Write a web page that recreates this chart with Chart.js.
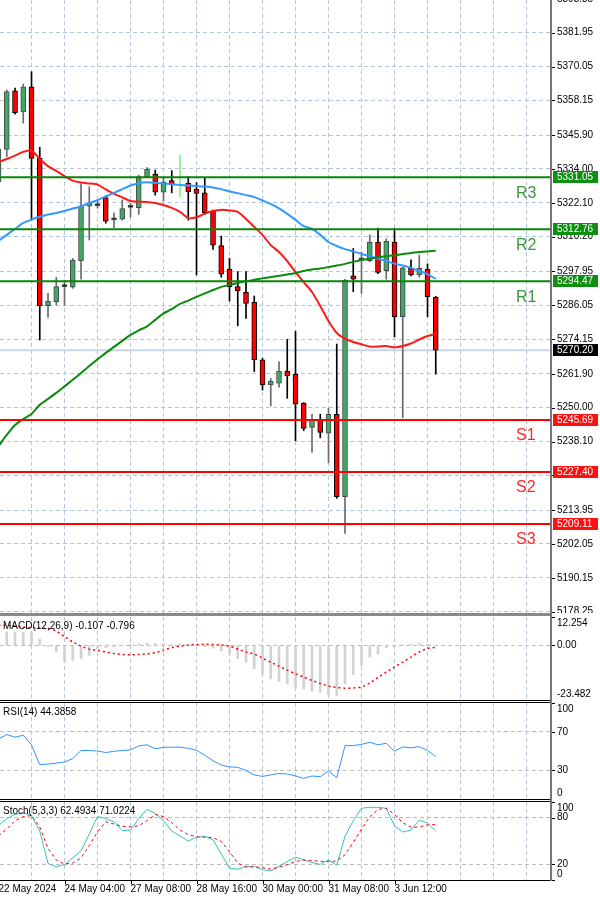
<!DOCTYPE html>
<html lang="en">
<head>
<meta charset="UTF-8">
<title>US500 H4</title>
<script src="https://cdn.jsdelivr.net/npm/chart.js"></script>
<style>
  body { margin: 0; background: #fff; }
  #wrap { position: relative; width: 600px; height: 901px; overflow: hidden; background: #fff; }
  canvas { position: absolute; left: 0; }
  .rule { position: absolute; }
</style>
</head>
<body>
<div id="wrap">
  <canvas id="priceChart" width="600" height="613" style="top:0"></canvas>
  <div class="rule" style="left:0;top:613px;width:552px;height:3px;background:#8a8a8a"></div>
  <canvas id="macdChart" width="600" height="83" style="top:617px"></canvas>
  <div class="rule" style="left:0;top:700px;width:552px;height:1px;background:#000"></div>
  <div class="rule" style="left:0;top:702px;width:552px;height:1px;background:#000"></div>
  <canvas id="rsiChart" width="600" height="96" style="top:703px"></canvas>
  <div class="rule" style="left:0;top:799px;width:552px;height:1px;background:#000"></div>
  <div class="rule" style="left:0;top:801px;width:552px;height:1px;background:#000"></div>
  <canvas id="stochChart" width="600" height="99" style="top:802px"></canvas>
  <div class="rule" style="left:550px;top:0;width:2px;height:881px;background:#777"></div>
</div>

<script>
  // H4 candles, oldest first
  const openPx = [5329.5,5340.9,5361.5,5354.1,5362.9,5337.7,5285.9,5287.3,5292.6,5292.4,
    5301.7,5320.9,5321.1,5323.9,5316.1,5316.3,5320.5,5320.4,5331.3,5332.2,
    5325.8,5329.9,5330.0,5329.0,5326.8,5325.6,5319.2,5307.0,5298.8,5292.6,
    5290.6,5287.1,5266.8,5258.0,5258.6,5262.9,5261.7,5251.5,5243.1,5246.0,
    5241.0,5247.7,5218.7,5296.4,5302.0,5301.7,5308.3,5298.2,5308.3,5282.0,
    5299.0,5296.7,5298.7,5288.8];
  const highPx = [5343.0,5361.8,5362.5,5363.9,5368.2,5341.6,5290.2,5295.9,5294.9,5302.5,
    5328.7,5327.7,5322.7,5324.5,5318.6,5323.1,5321.9,5331.8,5334.5,5333.6,
    5330.7,5333.4,5338.9,5331.3,5329.2,5330.7,5319.5,5310.4,5302.6,5297.9,
    5297.9,5289.3,5267.4,5260.3,5266.2,5274.1,5276.9,5251.8,5247.7,5247.7,
    5249.8,5272.4,5295.2,5306.0,5304.8,5310.8,5313.2,5309.4,5313.1,5299.5,
    5302.0,5303.7,5300.6,5289.2];
  const lowPx = [5327.0,5338.3,5353.3,5350.1,5316.0,5273.8,5281.8,5286.1,5286.1,5292.0,
    5295.2,5309.0,5320.2,5314.9,5313.3,5316.0,5317.0,5318.0,5331.0,5324.8,
    5322.7,5325.6,5324.2,5316.0,5296.7,5318.0,5305.7,5295.9,5287.5,5278.8,
    5281.4,5262.7,5256.2,5250.6,5257.2,5253.3,5238.4,5241.9,5234.3,5239.4,
    5230.6,5218.1,5205.8,5290.8,5290.2,5301.3,5297.2,5295.2,5274.9,5246.5,
    5296.4,5295.9,5282.0,5261.8];
  const closePx = [5341.0,5361.2,5353.8,5362.9,5337.7,5285.9,5287.5,5292.6,5293.0,5301.9,
    5320.9,5321.9,5321.5,5315.6,5316.5,5320.1,5320.9,5331.3,5333.9,5325.8,
    5329.5,5328.6,5330.0,5326.0,5325.4,5318.6,5307.2,5297.0,5292.6,5291.1,
    5286.7,5266.8,5258.0,5259.4,5262.9,5261.2,5251.2,5242.7,5245.9,5241.3,
    5247.7,5218.7,5294.9,5295.2,5302.4,5308.2,5297.6,5308.5,5282.0,5299.2,
    5296.7,5299.0,5289.1,5270.2];

  // moving averages
  const maFast = [5336.4,5337.5,5338.7,5340.0,5340.5,5337.5,5335.0,5333.3,5331.5,5329.9,
    5329.2,5328.9,5328.5,5326.8,5325.2,5324.0,5322.7,5322.5,5322.4,5322.0,
    5321.3,5320.3,5318.9,5316.7,5317.0,5318.3,5319.2,5319.6,5319.4,5318.9,
    5316.4,5313.6,5310.8,5307.2,5304.8,5301.6,5297.7,5294.2,5290.7,5285.8,
    5280.5,5276.3,5274.3,5273.1,5272.3,5271.5,5271.5,5271.7,5271.2,5271.7,
    5272.6,5274.0,5275.2,5275.9];
  const maMid = [5308.7,5310.8,5312.9,5315.0,5316.2,5317.2,5318.0,5318.5,5319.2,5320.1,
    5320.8,5322.0,5323.0,5324.3,5325.6,5326.9,5328.2,5329.0,5329.3,5329.1,
    5328.9,5328.6,5328.4,5328.2,5328.0,5327.8,5327.5,5326.9,5326.1,5325.5,
    5324.8,5324.1,5322.9,5321.7,5320.1,5318.2,5316.1,5313.9,5312.9,5310.8,
    5308.3,5306.9,5305.8,5305.0,5304.1,5303.3,5302.4,5301.6,5300.7,5300.0,
    5299.2,5298.1,5297.0,5295.3];
  const maSlow = [5236.5,5240.4,5243.9,5246.0,5247.8,5251.0,5253.1,5255.2,5257.5,5259.8,
    5262.2,5264.7,5267.0,5269.3,5271.4,5273.5,5275.6,5277.2,5278.6,5280.9,
    5283.2,5284.7,5286.5,5287.7,5289.0,5290.2,5291.4,5292.5,5293.2,5293.9,
    5294.5,5295.0,5295.5,5296.0,5296.4,5296.9,5297.4,5298.1,5298.6,5299.0,
    5299.5,5300.0,5300.6,5301.3,5302.0,5302.4,5302.9,5303.3,5303.6,5304.1,
    5304.4,5304.8,5305.0,5305.2];

  const levelNames = ['R3', 'R2', 'R1', 'S1', 'S2', 'S3'];
  const levelValues = [5331.05, 5312.76, 5294.47, 5245.69, 5227.40, 5209.11];
  const lastPrice = 5270.20;
  const priceTicks = [5393.85,5381.95,5370.05,5358.15,5345.90,5334.00,5322.10,5310.20,5297.95,
    5286.05,5274.15,5261.90,5250.00,5238.10,5226.20,5213.95,5202.05,5190.15,5178.25];

  // indicators
  const macdMain = [5.5,5.8,5.8,5.6,5.6,2.8,-0.5,-2.8,-6.9,-6.4,
    -5.7,-4.3,-1.5,-1.0,-0.5,0.2,0.5,0.8,1.0,0.8,
    0.8,0.6,0.6,0.4,0.3,-0.5,-1.2,-2.4,-3.5,-5.7,
    -7.2,-10.0,-12.6,-14.4,-15.5,-16.5,-18.4,-18.7,-19.7,-20.1,
    -21.2,-21.5,-16.5,-12.6,-8.5,-5.0,-3.6,-1.0,-0.5,0.3,
    0.7,0.9,0.5,-0.1];
  const macdSignal = [8.8,8.6,8.4,7.9,7.7,7.5,7.2,6.2,3.8,1.5,
    -0.3,-1.6,-2.1,-2.8,-3.5,-3.9,-4.0,-3.9,-3.6,-3.1,
    -2.0,-0.9,-0.3,0.2,0.4,0.5,0.4,0.2,-0.3,-1.6,
    -2.8,-3.7,-5.4,-7.2,-8.9,-10.6,-12.2,-13.6,-15.1,-16.4,
    -17.5,-18.1,-18.4,-18.3,-17.9,-16.2,-13.8,-11.5,-9.3,-7.2,
    -5.0,-2.8,-1.3,-0.8];
  const macdTicks = [12.254, 0, -23.482];
  const macdTickLabels = ['12.254', '0.00', '-23.482'];

  const rsiValues = [62.5,67.1,64.4,66.4,56.4,35.8,36.4,37.4,38.6,42.0,
    50.5,50.5,50.0,48.4,49.7,50.5,51.2,55.3,56.4,52.3,
    53.8,54.0,54.0,52.8,50.7,45.6,39.9,35.3,33.4,33.0,
    29.7,25.1,23.5,25.1,26.6,26.1,24.0,21.5,24.0,23.2,
    29.2,22.2,55.6,55.6,56.9,59.1,56.4,58.1,49.7,54.3,
    53.3,54.5,50.6,44.4];
  const rsiTicks = [100, 70, 30, 0];

  const stochMain = [69.8,78.7,84.0,86.0,82.6,62.8,21.3,16.8,19.7,28.3,
    37.6,58.8,81.3,78.7,74.7,63.2,64.1,78.7,90.6,85.3,
    76.0,62.8,56.6,49.9,54.8,56.2,51.5,33.6,15.1,13.8,
    17.1,17.7,13.1,11.8,17.7,23.7,29.3,25.7,22.4,20.0,
    25.7,19.1,56.2,76.0,91.9,93.2,93.2,91.9,69.4,61.5,
    64.1,76.7,73.0,62.5];
  const stochSignal = [56.6,65.4,76.0,81.3,82.6,68.1,40.3,25.7,20.4,21.7,
    28.3,44.2,61.5,74.7,71.7,68.7,68.1,69.4,76.0,84.0,
    81.3,73.4,64.1,58.1,55.5,54.8,54.2,49.5,36.3,21.7,
    16.8,16.8,15.8,14.0,16.4,19.7,23.7,25.7,25.0,24.0,
    23.4,24.4,32.3,48.2,65.4,80.9,90.6,91.9,84.0,73.4,
    67.7,67.7,70.7,71.0];
  const stochTicks = [100, 80, 20, 0];

  const dateIdx = [0, 8, 16, 24, 32, 40, 48];
  const dateLabels = ['22 May 2024', '24 May 04:00', '27 May 08:00', '28 May 16:00',
    '30 May 00:00', '31 May 08:00', '3 Jun 12:00'];

  const FONT = '10px "Liberation Sans", Arial, sans-serif';
  const idx = openPx.map((_, i) => i);
  const xMin = 0.18, xMax = 66.97;
  const gridIdx = [];
  for (let g = 4; g <= 64; g += 4) gridIdx.push(g);
  const oddBar = 22; // the lone light-green tick bar

  function xScale() {
    return {
      type: 'linear', min: xMin, max: xMax, offset: false,
      afterBuildTicks: s => { s.ticks = gridIdx.map(v => ({ value: v })); },
      afterFit: s => { s.height = 0; },
      ticks: { display: false },
      grid: { color: '#b3c6df', drawTicks: false, offset: false },
      border: { display: false, dash: [4, 3] }
    };
  }

  function yScale(min, max, gridVals, color) {
    return {
      type: 'linear', position: 'right', min, max, beginAtZero: false,
      afterBuildTicks: s => { s.ticks = gridVals.map(v => ({ value: v })); },
      afterFit: s => { s.width = 49; },
      ticks: { display: false },
      grid: { color, drawTicks: false },
      border: { display: false, dash: [4, 3] }
    };
  }

  function options(min, max, gridVals, gridColor, padBottom) {
    return {
      responsive: false, animation: false,
      layout: { padding: { left: 0, right: 0, top: 0, bottom: padBottom || 0 } },
      plugins: { legend: { display: false }, tooltip: { enabled: false } },
      scales: { x: xScale(), y: yScale(min, max, gridVals, gridColor) }
    };
  }

  function axisLabels(chart, values, texts, clamp) {
    const { ctx, chartArea: a, scales: { y } } = chart;
    ctx.save();
    ctx.font = FONT;
    ctx.textBaseline = 'middle';
    ctx.fillStyle = '#000';
    values.forEach((v, k) => {
      const py = y.getPixelForValue(v);
      ctx.fillRect(a.right + 1, Math.round(py), 3, 1);
      const ty = clamp ? Math.min(Math.max(py, a.top + 6), a.bottom - 6) : py;
      ctx.fillText(texts[k], a.right + 6, ty);
    });
    ctx.restore();
  }

  function title(chart, text) {
    const { ctx, chartArea: a } = chart;
    ctx.save();
    ctx.font = FONT;
    ctx.textBaseline = 'middle';
    ctx.fillStyle = '#000';
    ctx.fillText(text, 3, a.top + 9);
    ctx.restore();
  }

  function line(data, color, width, dash) {
    return {
      type: 'line', data: idx.map(i => ({ x: i, y: data[i] })),
      borderColor: color, borderWidth: width, borderDash: dash || [],
      pointRadius: 0, tension: 0.2, fill: false, order: 2
    };
  }

  function flat(value, color, order) {
    return {
      type: 'line', data: [{ x: xMin, y: value }, { x: xMax, y: value }],
      borderColor: color, borderWidth: 2, pointRadius: 0, order
    };
  }

  // ---------- price panel ----------
  const isUp = i => closePx[i] > openPx[i];
  const isDoji = i => Math.abs(closePx[i] - openPx[i]) < 0.6;
  const bodyFill = idx.map(i => i === oddBar ? 'rgba(0,0,0,0)' : isDoji(i) ? '#000' : isUp(i) ? '#3ea864' : '#ff0000');
  const bodyEdge = idx.map(i => i === oddBar ? 'rgba(0,0,0,0)' : isUp(i) ? '#4a4a4a' : '#000');
  const wickColor = idx.map(i => i === oddBar ? '#86ef86' : isUp(i) ? '#6a6a6a' : '#000');

  const levelColor = n => n.startsWith('R') ? '#0a840a' : '#ff0000';

  new Chart(document.getElementById('priceChart'), {
    type: 'line',
    data: {
      datasets: [
        flat(lastPrice, '#c8d4e6', 9),
        { type: 'bar', data: idx.map(i => ({ x: i, y: [lowPx[i], highPx[i]] })),
          backgroundColor: wickColor, barThickness: 1, grouped: false, order: 8 },
        { type: 'bar', data: idx.map(i => ({ x: i, y: [openPx[i], closePx[i]] })),
          backgroundColor: bodyFill, borderColor: bodyEdge, borderWidth: 1, borderSkipped: false,
          barThickness: 5, minBarLength: 2, grouped: false, order: 7 },
        line(maSlow, '#0b8a0b', 2),
        line(maMid, '#3399ff', 2),
        line(maFast, '#ff1a1a', 2),
        ...levelValues.map((v, k) => flat(v, levelColor(levelNames[k]), 1))
      ]
    },
    options: options(5177.76, 5393.45, priceTicks, '#b3c6df'),
    plugins: [{
      id: 'priceText',
      afterDraw(chart) {
        const { ctx, chartArea: a, scales: { y } } = chart;
        axisLabels(chart, priceTicks, priceTicks.map(v => v.toFixed(2)), false);
        ctx.save();
        // names of the pivot levels
        ctx.font = '16px "Liberation Sans", Arial, sans-serif';
        ctx.textBaseline = 'top';
        levelValues.forEach((v, k) => {
          ctx.fillStyle = levelNames[k].startsWith('R') ? '#3a9a3a' : '#ff2a2a';
          ctx.fillText(levelNames[k], a.right - 35, y.getPixelForValue(v) + 8);
        });
        // value tags on the price axis
        ctx.font = FONT;
        ctx.textBaseline = 'middle';
        const tag = (v, bg) => {
          const py = Math.round(y.getPixelForValue(v));
          ctx.fillStyle = bg;
          ctx.fillRect(a.right + 2, py - 6, 45, 12);
          ctx.fillStyle = '#fff';
          ctx.fillText(v.toFixed(2), a.right + 6, py);
        };
        levelValues.forEach((v, k) => tag(v, levelNames[k].startsWith('R') ? '#0f8f0f' : '#ff1010'));
        tag(lastPrice, '#000');
        ctx.restore();
      }
    }]
  });

  // ---------- MACD ----------
  new Chart(document.getElementById('macdChart'), {
    type: 'line',
    data: {
      datasets: [
        { type: 'bar', data: idx.map(i => ({ x: i, y: macdMain[i] })),
          backgroundColor: '#d2d2d2', barThickness: 2, grouped: false, order: 5 },
        line(macdSignal, '#ff0000', 1.5, [2, 3])
      ]
    },
    options: options(-23.482, 12.254, [0], '#bdbdbd'),
    plugins: [{
      id: 'macdText',
      afterDraw(chart) {
        axisLabels(chart, macdTicks, macdTickLabels, true);
        title(chart, 'MACD(12,26,9) -0.107 -0.796');
      }
    }]
  });

  // ---------- RSI ----------
  const rsiLine = line(rsiValues, '#2f94ff', 1);
  rsiLine.tension = 0;
  new Chart(document.getElementById('rsiChart'), {
    type: 'line',
    data: { datasets: [rsiLine] },
    options: options(0, 100, [70, 30], '#bdbdbd'),
    plugins: [{
      id: 'rsiText',
      afterDraw(chart) {
        axisLabels(chart, rsiTicks, rsiTicks.map(String), true);
        title(chart, 'RSI(14) 44.3858');
      }
    }]
  });

  // ---------- Stochastic ----------
  const stMain = line(stochMain, '#3cc0b4', 1);
  const stSig = line(stochSignal, '#ff0000', 1, [3, 3]);
  stMain.tension = 0;
  stSig.tension = 0;
  new Chart(document.getElementById('stochChart'), {
    type: 'line',
    data: { datasets: [stSig, stMain] },
    options: options(0, 100, [80, 20], '#bdbdbd', 21),
    plugins: [{
      id: 'stochText',
      afterDraw(chart) {
        const { ctx, chartArea: a, scales: { x } } = chart;
        axisLabels(chart, stochTicks, stochTicks.map(String), true);
        title(chart, 'Stoch(5,3,3) 62.4934 71.0224');
        // time axis under the last panel
        ctx.save();
        ctx.fillStyle = '#000';
        ctx.fillRect(0, a.bottom, a.right + 1, 1);
        ctx.font = FONT;
        ctx.textBaseline = 'top';
        dateIdx.forEach((d, k) => {
          const px = x.getPixelForValue(d);
          ctx.fillRect(Math.round(px), a.bottom, 1, 4);
          ctx.fillText(dateLabels[k], px, a.bottom + 4);
        });
        ctx.restore();
      }
    }]
  });
</script>
</body>
</html>
